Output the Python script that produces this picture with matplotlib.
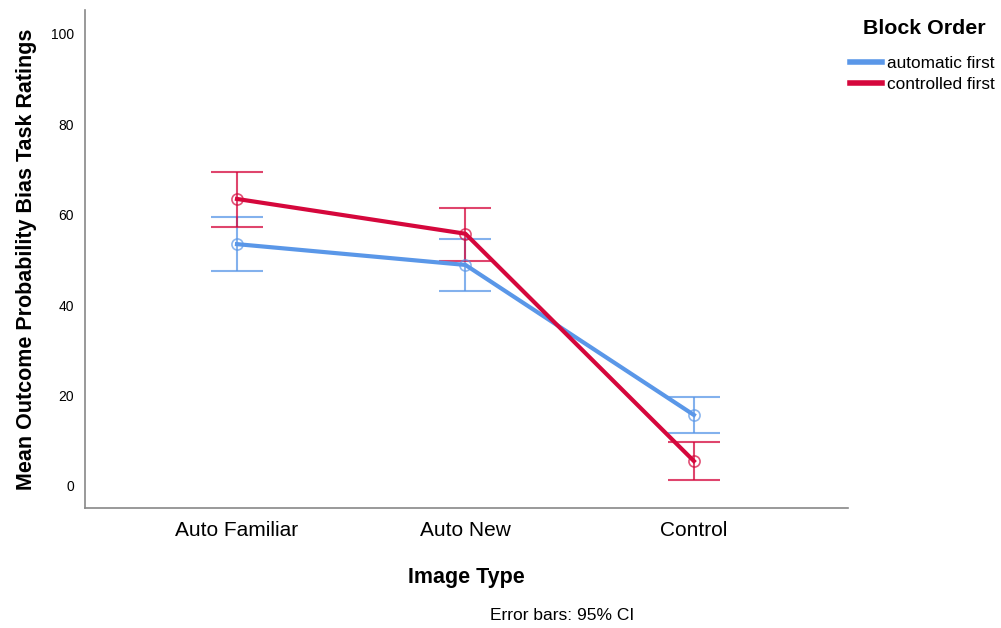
import matplotlib.pyplot as plt
import numpy as np

plt.rcParams['font.family'] = ['Liberation Sans', 'DejaVu Sans']

categories = ['Auto Familiar', 'Auto New', 'Control']
groups = ['automatic first', 'controlled first']
means = {
    'automatic first': [53.5, 48.9, 15.7],
    'controlled first': [63.5, 55.8, 5.5],
}
ci_low = {
    'automatic first': [47.6, 43.1, 11.7],
    'controlled first': [57.3, 49.8, 1.3],
}
ci_high = {
    'automatic first': [59.5, 54.6, 19.7],
    'controlled first': [69.5, 61.5, 9.7],
}
colors = {'automatic first': '#5a97e8', 'controlled first': '#d5073c'}

fig = plt.figure(figsize=(10.01, 6.28), dpi=100)
ax = fig.add_axes([0.085, 0.191, 0.762, 0.793])

x = np.arange(len(categories))
for g in groups:
    m = np.array(means[g])
    lo = m - np.array(ci_low[g])
    hi = np.array(ci_high[g]) - m
    ax.errorbar(x, m, yerr=[lo, hi], fmt='none', ecolor=colors[g], alpha=0.75,
                elinewidth=1.5, capsize=19, capthick=1.5, zorder=2)
    ax.plot(x, m, color=colors[g], lw=3, label=g, zorder=3)
    ax.plot(x, m, 'o', mfc='none', mec=colors[g], ms=8, mew=1.2, alpha=0.7, zorder=4)

ax.set_xlim(-0.665, 2.674)
ax.set_ylim(-4.9, 105.3)
ax.set_yticks([0, 20, 40, 60, 80, 100])
ax.set_xticks(x)
ax.set_xticklabels(categories, fontsize=15)
ax.tick_params(axis='y', length=0, labelsize=10, pad=8)
ax.tick_params(axis='x', length=0, pad=9)
for s in ['top', 'right']:
    ax.spines[s].set_visible(False)
for s in ['left', 'bottom']:
    ax.spines[s].set_color('#888888')
    ax.spines[s].set_linewidth(1.2)

ax.set_ylabel('Mean Outcome Probability Bias Task Ratings', fontsize=15.5,
              fontweight='bold', labelpad=10)
ax.set_xlabel('Image Type', fontsize=15.5, fontweight='bold', labelpad=20)

fig.text(0.923, 1 - 29 / 628, 'Block Order', ha='center', va='center',
         fontsize=15.4, fontweight='bold')
leg = fig.legend(loc='upper left', bbox_to_anchor=(0.849, 1 - 56 / 628), frameon=False,
                 fontsize=12.4, handlelength=1.85, handletextpad=0.3,
                 labelspacing=0.32, borderpad=0, borderaxespad=0)
for line in leg.get_lines():
    line.set_linewidth(4)

fig.text(0.562, 1 - 615 / 628, 'Error bars: 95% CI', ha='center', va='center',
         fontsize=12.5)

fig.savefig('out.png', dpi=100)
